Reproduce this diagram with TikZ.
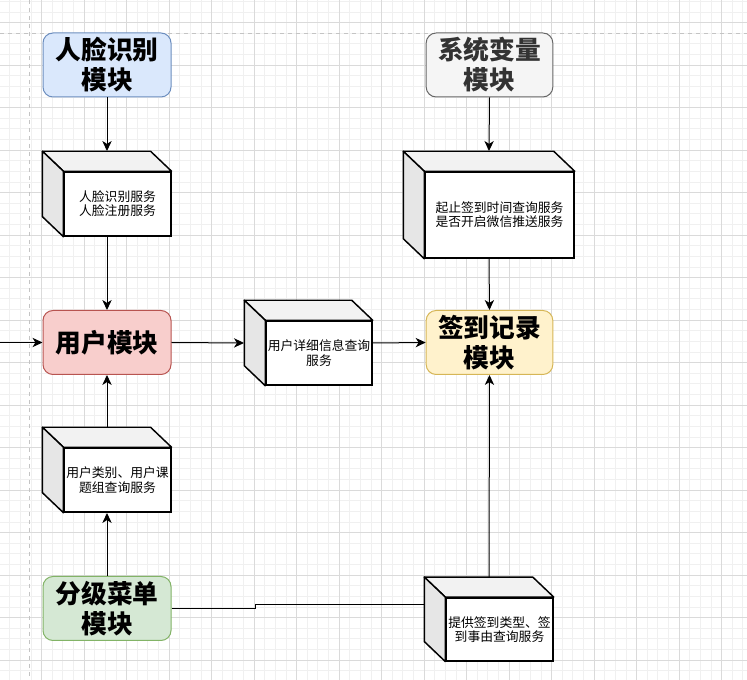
\documentclass[tikz,border=0pt]{standalone}
\usepackage{fontspec}
\setmainfont{Noto Sans CJK SC}
\usetikzlibrary{arrows.meta, calc, fit}
\definecolor{cBlueF}{HTML}{DAE8FC}
\definecolor{cBlueD}{HTML}{6C8EBF}
\definecolor{cRedF}{HTML}{F8CECC}
\definecolor{cRedD}{HTML}{B85450}
\definecolor{cYellowF}{HTML}{FFF2CC}
\definecolor{cYellowD}{HTML}{D6B656}
\definecolor{cGreenF}{HTML}{D5E8D4}
\definecolor{cGreenD}{HTML}{82B366}
\definecolor{cGreyF}{HTML}{F5F5F5}
\definecolor{cGreyD}{HTML}{666666}
\definecolor{cGreyT}{HTML}{333333}
\definecolor{cTop}{HTML}{F2F2F2}
\definecolor{cSide}{HTML}{E6E6E6}
\definecolor{cGridMinor}{HTML}{F0F0F0}
\definecolor{cGridMajor}{HTML}{DADADA}
\definecolor{cPage}{HTML}{C4C4C4}
\tikzset{
	module/.style   ={rectangle, rounded corners=7.5pt, minimum width=96pt, minimum height=48pt, inner sep=0pt, align=center, line width=0.75pt, font=\fontsize{19.3}{22.5}\selectfont\bfseries},
	svcface/.style  ={rectangle, draw=black, line width=1.1pt, fill=white, minimum width=80pt, minimum height=48pt, inner sep=0pt, align=center, font=\fontsize{9.6}{10.7}\selectfont},
	topface/.style  ={draw=black, line width=1.1pt, fill=cTop, line join=round},
	sideface/.style ={draw=black, line width=1.1pt, fill=cSide, line join=round},
	cubebox/.style  ={inner sep=0pt, draw=none},
	flowarrow/.style={-{Stealth[length=7.5pt, width=7pt, inset=2.2pt]}, line width=0.75pt},
	flowline/.style ={line width=0.75pt},
	gridminor/.style={cGridMinor, line width=0.75pt},
	gridmajor/.style={cGridMajor, line width=0.75pt},
	pagebreak/.style={cPage, line width=0.75pt, dash pattern=on 3pt off 3pt},
}
\begin{document}
\begin{tikzpicture}[x=0.75pt, y=-0.75pt]
	\useasboundingbox (0,0) rectangle (747,680);
	\fill[white] (0,0) rectangle (747,680);
	% background grid
	\foreach \k in {0,...,71} \draw[gridminor] ({-0.8+10.625*\k},0) -- ++(0,680);
	\foreach \k in {-3,...,62} \draw[gridminor] (0,{22.7+10.625*\k}) -- ++(747,0);
	\foreach \k in {0,...,18} \draw[gridmajor] ({-0.8+42.5*\k},0) -- ++(0,680);
	\foreach \k in {-1,...,15} \draw[gridmajor] (0,{22.7+42.5*\k}) -- ++(747,0);
	\draw[pagebreak] (29.3,0) -- (29.3,680);
	\draw[pagebreak] (0,33.3) -- (747,33.3);

	% modules
	\node[module, draw=cBlueD, fill=cBlueF] (face) at (107,65) {人脸识别\\模块};
	\node[module, draw=cGreyD, fill=cGreyF, text=cGreyT, minimum width=95pt] (sysvar) at (489.5,65) {系统变量\\模块};
	\node[module, draw=cRedD, fill=cRedF] (user) at (107,342.5) {用户模块};
	\node[module, draw=cYellowD, fill=cYellowF, minimum width=95pt] (record) at (489.5,342.5) {签到记录\\模块};
	\node[module, draw=cGreenD, fill=cGreenF] (menu) at (107,608.5) {分级菜单\\模块};

	% services (front faces)
	\node[svcface] (c1) at (117.5,204) {人脸识别服务\\人脸注册服务};
	\node[svcface, minimum width=79.5pt] (c2) at (319,353) {用户详细信息查询\\服务};
	\node[svcface] (c3) at (117.5,480) {用户类别、用户课\\题组查询服务};
	\node[svcface, minimum width=111.75pt, minimum height=64.5pt] (c4) at (499.5,215) {起止签到时间查询服务\\是否开启微信推送服务};
	\node[svcface, minimum width=80.25pt, minimum height=47.25pt] (c5) at (499.5,629.3) {提供签到类型、签\\到事由查询服务};
	\foreach \c in {c1,c2,c3,c4,c5}{
		\draw[topface] (\c.north west) -- ++(-21,-20) -- ($(\c.north east)+(-21,-20)$) -- (\c.north east) -- cycle;
		\draw[sideface] (\c.north west) -- ++(-21,-20) -- ($(\c.south west)+(-21,-20)$) -- (\c.south west) -- cycle;
		\node[cubebox, fit={(\c.south east) ($(\c.north west)+(-21,-20)$)}] (\c-b) {};
	}

	% connectors
	\coordinate (inlet) at (0,342.5);
	\coordinate (jog) at (255,604.5);
	\draw[flowarrow] (face.south) -- (c1-b.north);
	\draw[flowarrow] (c1-b.south) -- (user.north);
	\draw[flowarrow] (inlet) -- (user.west);
	\draw[flowarrow] (user.east) -- (c2-b.west);
	\draw[flowarrow] (c2-b.east) -- (record.west);
	\draw[flowarrow] (c3-b.north) -- (user.south);
	\draw[flowarrow] (menu.north) -- (c3-b.south);
	\draw[flowarrow] (sysvar.south) -- (c4-b.north);
	\draw[flowarrow] (c4-b.south) -- (record.north);
	\draw[flowarrow] (c5-b.north) -- (record.south);
	\draw[flowline] (menu.east) -| (jog) -- (jog -| c5-b.west);
\end{tikzpicture}
\end{document}
